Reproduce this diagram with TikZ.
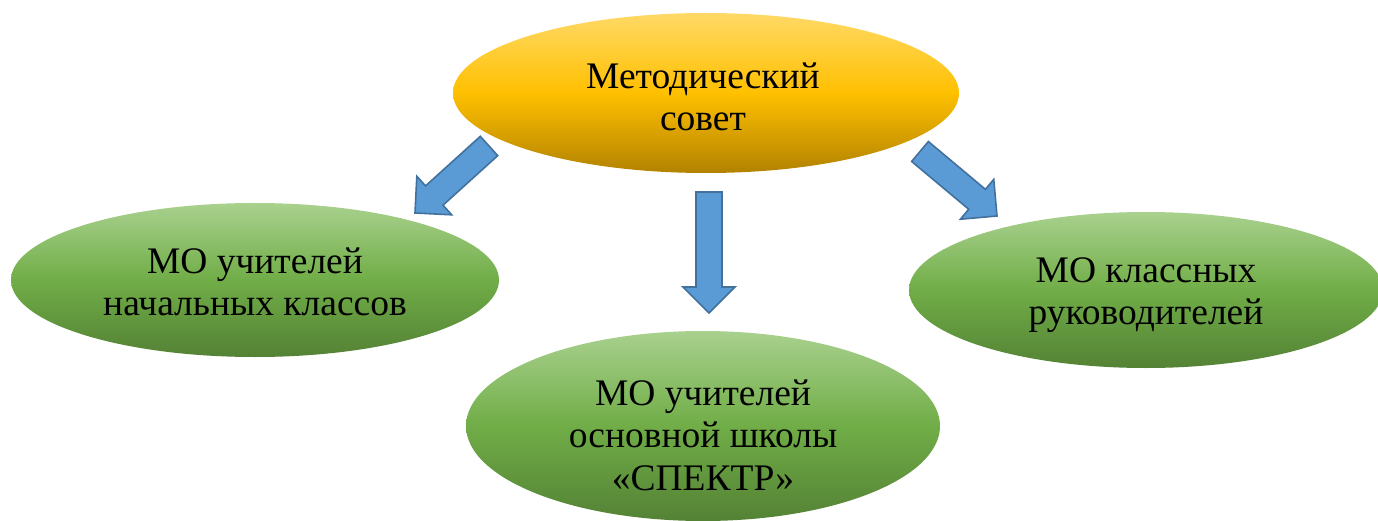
\documentclass[tikz,border=0pt]{standalone}
\usepackage{fontspec}
\setmainfont{Liberation Serif}
\usetikzlibrary{shapes.geometric,calc}
\definecolor{goldT}{RGB}{255,217,102}
\definecolor{goldM}{RGB}{255,192,0}
\definecolor{goldB}{RGB}{178,130,0}
\definecolor{grT}{RGB}{169,209,142}
\definecolor{grM}{RGB}{112,173,71}
\definecolor{grB}{RGB}{84,130,53}
\definecolor{arrFill}{RGB}{91,155,213}
\definecolor{arrLine}{RGB}{65,113,156}
\tikzset{
  goldell/.style={ellipse, draw=none, inner sep=0pt, top color=goldT, bottom color=goldB, middle color=goldM},
  greenell/.style={ellipse, draw=none, inner sep=0pt, top color=grT, bottom color=grB, middle color=grM},
  lbl/.style={align=center, font=\fontsize{37.5}{42.5}\selectfont, text=black, inner sep=0pt},
  blockarr/.style={fill=arrFill, draw=arrLine, line width=1.6pt, line join=miter},
}
\newcommand\blockarrow[2]{%
  \coordinate (H) at ($(#2)!26pt!(#1)$);
  \draw[blockarr] ($(#1)!13pt!90:(#2)$) -- ($(H)!13pt!90:(#2)$) -- ($(H)!26pt!90:(#2)$) -- (#2)
    -- ($(H)!26pt!-90:(#2)$) -- ($(H)!13pt!-90:(#2)$) -- ($(#1)!13pt!-90:(#2)$) -- cycle;}
\begin{document}
\begin{tikzpicture}[x=1pt,y=-1pt]
\clip (0,0) rectangle (1378,521);
\fill[white] (0,0) rectangle (1378,521);
% ellipses
\node[goldell, minimum width=506, minimum height=160] (ms) at (706,93) {};
\node[greenell, minimum width=488, minimum height=154] (nk) at (255,280) {};
\node[greenell, minimum width=474, minimum height=190] (os) at (703,426) {};
\node[greenell, minimum width=474, minimum height=156] (kr) at (1146,290) {};
% texts
\node[lbl] (mst) at (703,97) {Методический\\совет};
\node[lbl] (nkt) at (255,282) {МО учителей\\начальных классов};
\node[lbl] (ost) at (703,435) {МО учителей\\основной школы\\«СПЕКТР»};
\node[lbl] (krt) at (1146,295) {МО классных\\руководителей};
% arrows
\coordinate (la1) at (489,146); \coordinate (la2) at (415,213);
\coordinate (ma1) at (709,192); \coordinate (ma2) at (709,313);
\coordinate (ra1) at (920,151.5); \coordinate (ra2) at (997,216);
\blockarrow{la1}{la2}
\blockarrow{ma1}{ma2}
\blockarrow{ra1}{ra2}
\end{tikzpicture}
\end{document}
